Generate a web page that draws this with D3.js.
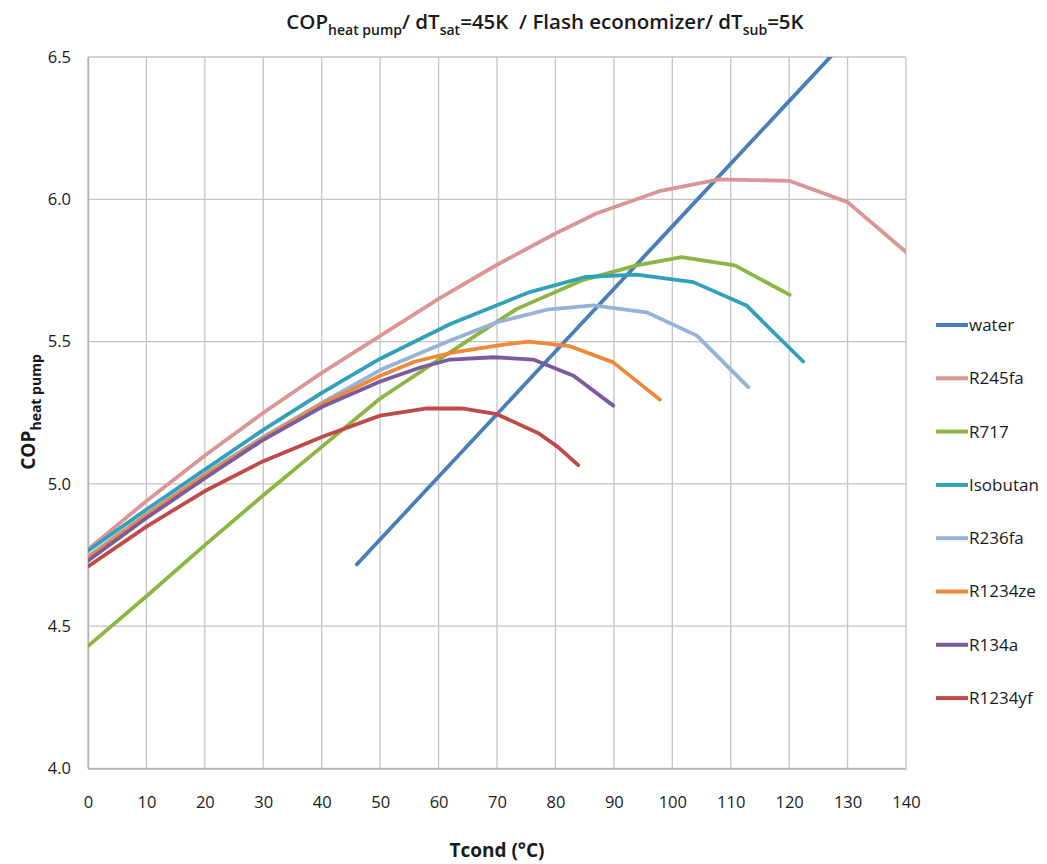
<!DOCTYPE html>
<html>
<head>
<meta charset="utf-8">
<script src="https://cdn.jsdelivr.net/npm/d3@7"></script>
<style>
  body { margin: 0; background: #fff; }
  svg { display: block; }
  text { font-family: "Open Sans", "Noto Sans", sans-serif; fill: #1a1a1a; }
</style>
</head>
<body>
<div id="chart"></div>
<script>
// chart size
const width = 1047;
const height = 864;
const margin = {left: 88, right: 141, top: 57, bottom: 95};

// data: [Tcond, COP]
const seriesNames = ["water", "R245fa", "R717", "Isobutan", "R236fa", "R1234ze", "R134a", "R1234yf"];
const seriesColors = ["#4a7ebb", "#d99694", "#8db543", "#31a0b8", "#95b3d7", "#f0883a", "#7a5c9e", "#be4b48"];

const water = [[46, 4.717], [60, 5.025], [80, 5.465], [100, 5.905], [120, 6.345], [130, 6.565]];
const r245fa = [[0, 4.77], [10, 4.94], [20, 5.10], [30, 5.25], [40, 5.39], [50, 5.52], [60, 5.65], [70, 5.77],
  [80, 5.88], [87, 5.95], [98, 6.03], [108, 6.07], [120, 6.065], [130, 5.99], [140, 5.815]];
const r717 = [[0, 4.43], [10, 4.605], [20, 4.785], [30, 4.96], [40, 5.13], [50, 5.30], [62, 5.463], [73.4, 5.615],
  [84.8, 5.717], [93.9, 5.768], [101.6, 5.797], [110.7, 5.768], [120.1, 5.664]];
const isobutan = [[0, 4.765], [10, 4.91], [20, 5.05], [30, 5.19], [40, 5.32], [50, 5.44], [62, 5.562],
  [75.6, 5.674], [85.1, 5.727], [93.9, 5.735], [103.6, 5.709], [112.7, 5.627], [122.4, 5.43]];
const r236fa = [[0, 4.745], [10, 4.895], [20, 5.035], [30, 5.165], [40, 5.285], [50, 5.40], [62, 5.504],
  [70, 5.568], [78.5, 5.612], [86.5, 5.627], [95.6, 5.603], [104.2, 5.521], [113, 5.34]];
const r1234ze = [[0, 4.74], [10, 4.89], [20, 5.03], [30, 5.16], [40, 5.28], [50, 5.38], [56, 5.43], [62, 5.46],
  [70, 5.486], [75.4, 5.50], [82.5, 5.484], [89.9, 5.427], [97.9, 5.296]];
const r134a = [[0, 4.73], [10, 4.88], [20, 5.02], [30, 5.155], [40, 5.27], [50, 5.36], [57, 5.41], [62, 5.437],
  [69.4, 5.445], [76.2, 5.437], [83.1, 5.38], [89.9, 5.275]];
const r1234yf = [[0, 4.71], [10, 4.85], [20, 4.975], [30, 5.08], [40, 5.165], [50, 5.24], [58, 5.265],
  [64, 5.265], [70, 5.245], [77.1, 5.178], [80.4, 5.13], [83.9, 5.066]];

const seriesData = [water, r245fa, r717, isobutan, r236fa, r1234ze, r134a, r1234yf];

const xTicks = d3.range(0, 141, 10);
const yTicks = [4.0, 4.5, 5.0, 5.5, 6.0, 6.5];

const svg = d3.select("#chart")
  .append("svg")
  .attr("width", width)
  .attr("height", height);

const x = d3.scaleLinear().domain([0, 140]).range([margin.left, width - margin.right]);
const y = d3.scaleLinear().domain([4.0, 6.5]).range([height - margin.bottom - 0.5, margin.top]);

// grid lines
svg.append("g")
  .selectAll("line")
  .data(xTicks)
  .join("line")
  .attr("x1", d => x(d)).attr("x2", d => x(d))
  .attr("y1", y(4.0)).attr("y2", y(6.5))
  .attr("stroke", "#c4c4c4").attr("stroke-width", 1.3);

svg.append("g")
  .selectAll("line")
  .data(yTicks)
  .join("line")
  .attr("x1", x(0)).attr("x2", x(140))
  .attr("y1", d => y(d)).attr("y2", d => y(d))
  .attr("stroke", "#c4c4c4").attr("stroke-width", 1.3);

// axes (labels only, no tick marks)
const xAxis = svg.append("g")
  .attr("transform", `translate(0,${y(4.0)})`)
  .call(d3.axisBottom(x).tickValues(xTicks).tickSize(0).tickPadding(28));
xAxis.select(".domain").attr("stroke", "#b5b5b5").attr("stroke-width", 1.5);
xAxis.selectAll("text").attr("font-size", 16.5).attr("fill", "#1a1a1a");

const yAxis = svg.append("g")
  .attr("transform", `translate(${x(0)},0)`)
  .call(d3.axisLeft(y).tickValues(yTicks).tickFormat(d3.format(".1f")).tickSize(0).tickPadding(17));
yAxis.select(".domain").attr("stroke", "#b5b5b5").attr("stroke-width", 1.5);
yAxis.selectAll("text").attr("font-size", 16.5).attr("fill", "#1a1a1a");

// clip to plot area
svg.append("clipPath").attr("id", "plot-clip")
  .append("rect")
  .attr("x", x(0)).attr("y", y(6.5))
  .attr("width", x(140) - x(0)).attr("height", y(4.0) - y(6.5));

const line = d3.line()
  .x(d => x(d[0]))
  .y(d => y(d[1]));

svg.append("g")
  .attr("clip-path", "url(#plot-clip)")
  .selectAll("path")
  .data(seriesData)
  .join("path")
  .attr("d", line)
  .attr("fill", "none")
  .attr("stroke", (d, i) => seriesColors[i])
  .attr("stroke-width", 3.8)
  .attr("stroke-linejoin", "round")
  .attr("stroke-linecap", "round");

// legend
const legend = svg.append("g")
  .selectAll("g")
  .data(seriesNames)
  .join("g")
  .attr("transform", (d, i) => `translate(936,${325 + i * 53.3})`);

legend.append("line")
  .attr("x1", 0).attr("x2", 32)
  .attr("stroke", (d, i) => seriesColors[i])
  .attr("stroke-width", 4);

legend.append("text")
  .attr("x", 33).attr("dy", "0.35em")
  .attr("font-size", 17)
  .text(d => d);

// title
const title = svg.append("text")
  .attr("x", 545).attr("y", 29)
  .attr("text-anchor", "middle")
  .attr("font-size", 20.5)
  .attr("font-weight", 600);
title.append("tspan").text("COP");
title.append("tspan").attr("dy", 6).attr("font-size", 14).text("heat pump");
title.append("tspan").attr("dy", -6).text("/ dT");
title.append("tspan").attr("dy", 6).attr("font-size", 14).text("sat");
title.append("tspan").attr("dy", -6).text("=45K\u00a0 / Flash economizer/ dT");
title.append("tspan").attr("dy", 6).attr("font-size", 14).text("sub");
title.append("tspan").attr("dy", -6).text("=5K");

// y axis title
const yTitle = svg.append("text")
  .attr("transform", "translate(35,412) rotate(-90)")
  .attr("text-anchor", "middle")
  .attr("font-size", 19)
  .attr("font-weight", "bold");
yTitle.append("tspan").text("COP");
yTitle.append("tspan").attr("dy", 6).attr("font-size", 14).text("heat pump");

// x axis title
svg.append("text")
  .attr("x", 497).attr("y", 857)
  .attr("text-anchor", "middle")
  .attr("font-size", 19)
  .attr("font-weight", "bold")
  .text("Tcond (°C)");
</script>
</body>
</html>
